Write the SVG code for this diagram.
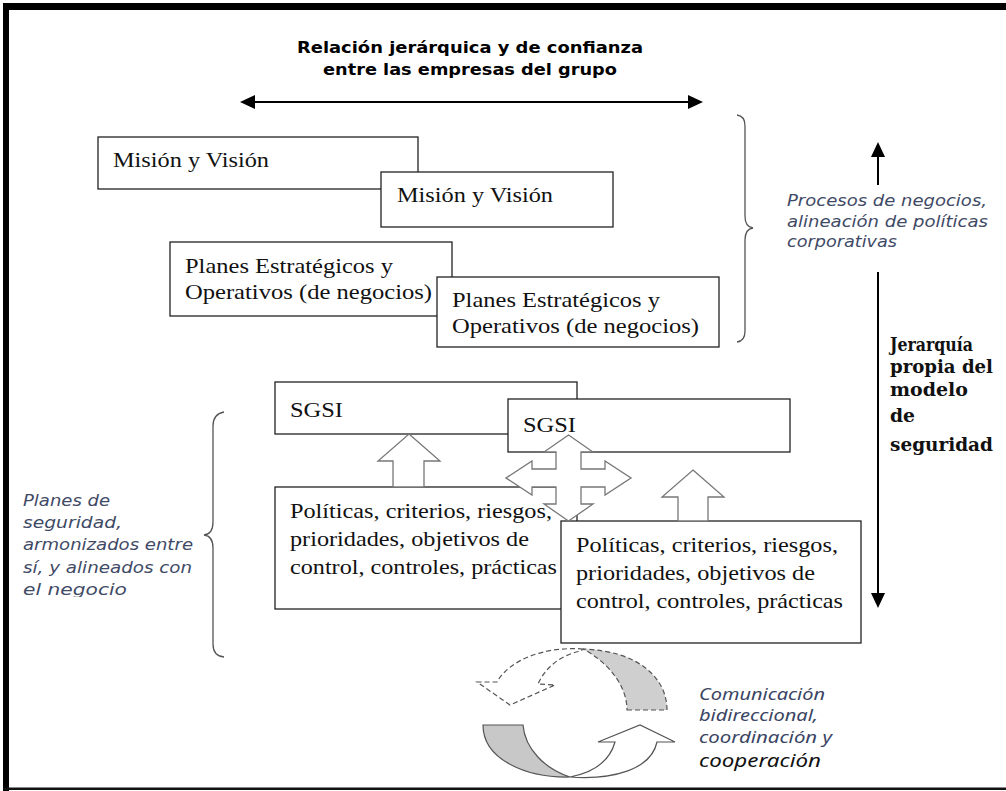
<svg xmlns="http://www.w3.org/2000/svg" width="1006" height="791" viewBox="0 0 1006 791">
  <defs>
    <marker id="head" markerUnits="userSpaceOnUse" viewBox="0 0 15 14" markerWidth="15" markerHeight="14" refX="3" refY="7" orient="auto-start-reverse">
      <path d="M0,0 L15,7 L0,14 Z" fill="#000"/>
    </marker>
    <clipPath id="clipLast">
      <rect x="0" y="0" width="300" height="597"/>
    </clipPath>
  </defs>
  <style>
    .box{fill:#fff;stroke:#222;stroke-width:1.3}
    .tx{font-family:'Liberation Serif','Times New Roman',serif;font-size:21px;fill:#111}
    .note{font-family:'DejaVu Sans',Verdana,sans-serif;font-style:italic;font-size:15px;fill:#3f4a66}
    .title{font-family:'DejaVu Sans',Tahoma,sans-serif;font-weight:bold;font-size:16.5px;fill:#000}
    .hier{font-family:'DejaVu Serif',Georgia,serif;font-weight:bold;font-size:18px;fill:#111}
    .comm{font-family:'Noto Sans',sans-serif;font-style:italic;font-size:15.5px;fill:#3a4563}
    .brace{fill:none;stroke:#555;stroke-width:1.3}
    .block{fill:#fff;stroke:#777;stroke-width:1.3}
    .line{stroke:#000;stroke-width:2;fill:none}
    .cyc{stroke:#555;stroke-width:1.2;stroke-linejoin:miter}
    .dash{stroke-dasharray:5 3}
  </style>

  <!-- page and frame -->
  <rect x="0" y="0" width="1006" height="791" fill="#fff"/>
  <rect x="3" y="3" width="1003" height="7" fill="#000"/>
  <rect x="3" y="3" width="6" height="788" fill="#000"/>
  <rect x="3" y="787.5" width="1003" height="2.5" fill="#111"/>

  <!-- heading -->
  <g id="title">
    <text class="title" x="470" y="53" text-anchor="middle" textLength="346" lengthAdjust="spacingAndGlyphs">Relación jerárquica y de confianza</text>
    <text class="title" x="470" y="75" text-anchor="middle" textLength="294" lengthAdjust="spacingAndGlyphs">entre las empresas del grupo</text>
  </g>

  <!-- business level -->
  <g id="mision1">
    <rect class="box" x="98" y="137" width="320" height="52"/>
    <text class="tx" x="113" y="167" textLength="156" lengthAdjust="spacingAndGlyphs">Misión y Visión</text>
  </g>
  <g id="mision2">
    <rect class="box" x="381" y="172" width="232" height="55"/>
    <text class="tx" x="397" y="202" textLength="156" lengthAdjust="spacingAndGlyphs">Misión y Visión</text>
  </g>
  <g id="planes1">
    <rect class="box" x="170" y="242" width="282" height="74"/>
    <text class="tx" x="185" y="273" textLength="208" lengthAdjust="spacingAndGlyphs">Planes Estratégicos y</text>
    <text class="tx" x="185" y="299" textLength="247" lengthAdjust="spacingAndGlyphs">Operativos (de negocios)</text>
  </g>
  <g id="planes2">
    <rect class="box" x="437" y="277" width="282" height="70"/>
    <text class="tx" x="452" y="307" textLength="208" lengthAdjust="spacingAndGlyphs">Planes Estratégicos y</text>
    <text class="tx" x="452" y="333" textLength="247" lengthAdjust="spacingAndGlyphs">Operativos (de negocios)</text>
  </g>

  <!-- security level -->
  <g id="sgsi1">
    <rect class="box" x="275" y="382" width="302" height="52"/>
    <text class="tx" x="290" y="417" textLength="53" lengthAdjust="spacingAndGlyphs">SGSI</text>
  </g>
  <g id="sgsi2">
    <rect class="box" x="508" y="399" width="282" height="53"/>
    <text class="tx" x="523" y="432" textLength="53" lengthAdjust="spacingAndGlyphs">SGSI</text>
  </g>
  <g id="politicas1">
    <rect class="box" x="275" y="487" width="302" height="122"/>
    <text class="tx" x="290" y="518" textLength="262" lengthAdjust="spacingAndGlyphs">Políticas, criterios, riesgos,</text>
    <text class="tx" x="290" y="546" textLength="239" lengthAdjust="spacingAndGlyphs">prioridades, objetivos de</text>
    <text class="tx" x="290" y="574" textLength="267" lengthAdjust="spacingAndGlyphs">control, controles, prácticas</text>
  </g>
  <g id="politicas2">
    <rect class="box" x="561" y="521" width="300" height="122"/>
    <text class="tx" x="576" y="552" textLength="262" lengthAdjust="spacingAndGlyphs">Políticas, criterios, riesgos,</text>
    <text class="tx" x="576" y="580" textLength="239" lengthAdjust="spacingAndGlyphs">prioridades, objetivos de</text>
    <text class="tx" x="576" y="608" textLength="267" lengthAdjust="spacingAndGlyphs">control, controles, prácticas</text>
  </g>

  <!-- side notes -->
  <g id="nota-procesos">
    <text class="note" x="787" y="206" textLength="200" lengthAdjust="spacingAndGlyphs">Procesos de negocios,</text>
    <text class="note" x="787" y="227" textLength="201" lengthAdjust="spacingAndGlyphs">alineación de políticas</text>
    <text class="note" x="787" y="247" textLength="110" lengthAdjust="spacingAndGlyphs">corporativas</text>
  </g>
  <g id="nota-jerarquia">
    <text class="hier" x="890" y="351" textLength="83" lengthAdjust="spacingAndGlyphs">Jerarquía</text>
    <text class="hier" x="890" y="373" textLength="103" lengthAdjust="spacingAndGlyphs">propia del</text>
    <text class="hier" x="890" y="396" textLength="78" lengthAdjust="spacingAndGlyphs">modelo</text>
    <text class="hier" x="890" y="422" textLength="25" lengthAdjust="spacingAndGlyphs">de</text>
    <text class="hier" x="890" y="451" textLength="103" lengthAdjust="spacingAndGlyphs">seguridad</text>
  </g>
  <g id="nota-planes">
    <text class="note" x="23" y="506" textLength="87" lengthAdjust="spacingAndGlyphs">Planes de</text>
    <text class="note" x="23" y="528" textLength="99" lengthAdjust="spacingAndGlyphs">seguridad,</text>
    <text class="note" x="23" y="550" textLength="170" lengthAdjust="spacingAndGlyphs">armonizados entre</text>
    <text class="note" x="23" y="573" textLength="169" lengthAdjust="spacingAndGlyphs">sí, y alineados con</text>
    <text class="note" x="23" y="595" textLength="104" lengthAdjust="spacingAndGlyphs" clip-path="url(#clipLast)">el negocio</text>
  </g>
  <g id="nota-comunicacion">
    <text class="comm" x="699" y="700" textLength="126" lengthAdjust="spacingAndGlyphs">Comunicación</text>
    <text class="comm" x="699" y="721" textLength="119" lengthAdjust="spacingAndGlyphs">bidireccional,</text>
    <text class="comm" x="699" y="743" textLength="133" lengthAdjust="spacingAndGlyphs">coordinación y</text>
    <text class="comm" x="699" y="767" textLength="122" lengthAdjust="spacingAndGlyphs" style="fill:#111;font-size:17.5px">cooperación</text>
  </g>

  <!-- connectors -->
  <g id="connectors">
    <!-- horizontal relation between companies -->
    <line class="line" x1="252" y1="102" x2="691" y2="102" marker-start="url(#head)" marker-end="url(#head)"/>
    <!-- vertical hierarchy axis -->
    <line class="line" x1="878" y1="185" x2="878" y2="154" marker-end="url(#head)"/>
    <line class="line" x1="878" y1="272" x2="878" y2="596" marker-end="url(#head)"/>

    <!-- braces -->
    <path class="brace" d="M737,115 Q745,116 745,126 L745,216 Q745,227 753,228 Q745,229 745,240 L745,331 Q745,341 737,342"/>
    <path class="brace" d="M224,412 Q213,414 213,426 L213,522 Q213,534 204,535 Q213,536 213,548 L213,644 Q213,656 224,657"/>

    <!-- upward block arrows -->
    <polygon class="block" points="409,434 440,461 424,461 424,487 393,487 393,461 378,461"/>
    <polygon class="block" points="693,470 724,497 708,497 708,521 678,521 678,497 662,497"/>

    <!-- four-way block arrow -->
    <polygon class="block" points="568.5,435 593,452 581,452 581,469 605,469 605,461 631,478 605,495 605,487 581,487 581,504 593,504 568.5,521 544,504 556,504 556,487 532,487 532,495 506,478 532,461 532,469 556,469 556,452 544,452"/>

    <!-- circular exchange: dashed arrow (upper) -->
    <path class="cyc dash" fill="#cfcfcf" d="M627,710 L667,710 C667,679 640,651 583,649 C606,661 627,684 627,710 Z"/>
    <path class="cyc dash" fill="#fff" d="M583,649 C545,646 509,660 497,682 L477,682 L510,705 L555,685 L538,684 C545,668 560,655 581,651 Z"/>
    <!-- circular exchange: solid arrow (lower) -->
    <path class="cyc" fill="#c8c8c8" d="M483,725 L523,725 C525,749 545,769 570,777 C527,778 483,760 483,725 Z"/>
    <path class="cyc" fill="#fff" d="M570,777 C612,780 651,770 657,742 L675,742 L640,725 L598,742 L615,742 C610,760 596,772 570,777 Z"/>
  </g>
</svg>
